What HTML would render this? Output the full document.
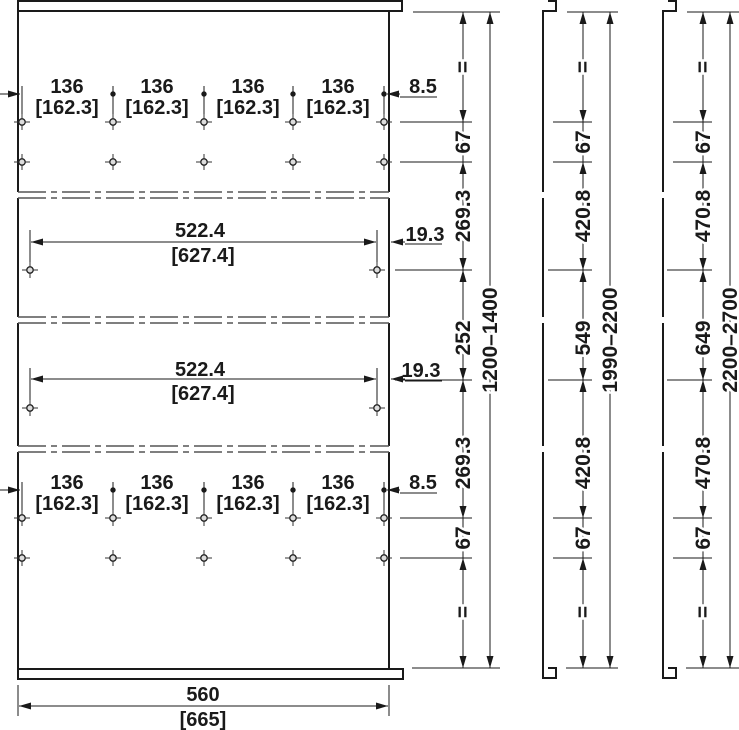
<!DOCTYPE html>
<html><head><meta charset="utf-8"><style>
html,body{margin:0;padding:0;background:#fff;}
svg{display:block;}
text{font-family:"Liberation Sans",Arial,sans-serif;font-weight:bold;fill:#1a1a1a;}
</style></head><body>
<svg width="739" height="730" viewBox="0 0 739 730" xmlns="http://www.w3.org/2000/svg">
<defs>
<marker id="a" markerWidth="13" markerHeight="8" refX="12" refY="4" orient="auto-start-reverse" markerUnits="userSpaceOnUse"><path d="M0,0.5 L12,4 L0,7.5z" fill="#1a1a1a"/></marker>
<g id="h"><line x1="-8" y1="0" x2="8" y2="0" stroke="#333" stroke-width="1"/><line x1="0" y1="-8" x2="0" y2="8" stroke="#333" stroke-width="1"/><circle r="3.2" fill="#ddd" stroke="#222" stroke-width="1.3"/></g>
</defs>
<g fill="none" stroke="#1a1a1a" stroke-width="2">
<rect x="18" y="1" width="384" height="10"/>
<rect x="18" y="669" width="385" height="10"/>
<line x1="18" y1="11" x2="18" y2="192"/><line x1="389" y1="11" x2="389" y2="192"/>
<line x1="18" y1="198" x2="18" y2="317"/><line x1="389" y1="198" x2="389" y2="317"/>
<line x1="18" y1="323" x2="18" y2="446"/><line x1="389" y1="323" x2="389" y2="446"/>
<line x1="18" y1="452" x2="18" y2="669"/><line x1="389" y1="452" x2="389" y2="669"/>
<polyline points="548,1 556,1 556,11 543,11 543,192"/>
<line x1="543" y1="198" x2="543" y2="317"/><line x1="543" y1="323" x2="543" y2="446"/>
<polyline points="543,452 543,678 556,678 556,668 548,668"/>
<polyline points="668,1 676,1 676,11 663,11 663,192"/>
<line x1="663" y1="198" x2="663" y2="317"/><line x1="663" y1="323" x2="663" y2="446"/>
<polyline points="663,452 663,678 676,678 676,668 668,668"/>
</g>
<g stroke="#555" stroke-width="1.5" stroke-dasharray="28 5 6 5">
<line x1="18" y1="192" x2="389" y2="192"/><line x1="18" y1="198" x2="389" y2="198"/>
<line x1="18" y1="317" x2="389" y2="317"/><line x1="18" y1="323" x2="389" y2="323"/>
<line x1="18" y1="446" x2="389" y2="446"/><line x1="18" y1="452" x2="389" y2="452"/>
</g>
<g>
<use href="#h" x="22" y="122"/><use href="#h" x="113" y="122"/><use href="#h" x="204" y="122"/><use href="#h" x="293" y="122"/><use href="#h" x="384" y="122"/>
<use href="#h" x="22" y="162"/><use href="#h" x="113" y="162"/><use href="#h" x="204" y="162"/><use href="#h" x="293" y="162"/><use href="#h" x="384" y="162"/>
<use href="#h" x="30" y="270"/><use href="#h" x="377" y="270"/>
<use href="#h" x="30" y="408"/><use href="#h" x="377" y="408"/>
<use href="#h" x="22" y="518"/><use href="#h" x="113" y="518"/><use href="#h" x="204" y="518"/><use href="#h" x="293" y="518"/><use href="#h" x="384" y="518"/>
<use href="#h" x="22" y="558"/><use href="#h" x="113" y="558"/><use href="#h" x="204" y="558"/><use href="#h" x="293" y="558"/><use href="#h" x="384" y="558"/>
</g>
<g stroke="#1a1a1a" stroke-width="1" fill="#1a1a1a">
<line x1="22" y1="86" x2="22" y2="114"/><line x1="113" y1="86" x2="113" y2="114"/><line x1="204" y1="86" x2="204" y2="114"/><line x1="293" y1="86" x2="293" y2="114"/><line x1="384" y1="86" x2="384" y2="114"/>
<circle cx="113" cy="94" r="2.2"/><circle cx="204" cy="94" r="2.2"/><circle cx="293" cy="94" r="2.2"/><circle cx="384" cy="94" r="2.2"/>
<line x1="22" y1="482" x2="22" y2="510"/><line x1="113" y1="482" x2="113" y2="510"/><line x1="204" y1="482" x2="204" y2="510"/><line x1="293" y1="482" x2="293" y2="510"/><line x1="384" y1="482" x2="384" y2="510"/>
<circle cx="113" cy="490" r="2.2"/><circle cx="204" cy="490" r="2.2"/><circle cx="293" cy="490" r="2.2"/><circle cx="384" cy="490" r="2.2"/>
<line x1="30" y1="230" x2="30" y2="262"/><line x1="377" y1="230" x2="377" y2="262"/>
<line x1="30" y1="368" x2="30" y2="400"/><line x1="377" y1="368" x2="377" y2="400"/>
<line x1="18" y1="685" x2="18" y2="716"/><line x1="389" y1="685" x2="389" y2="716"/>
</g>
<g stroke="#1a1a1a" stroke-width="1" fill="none">
<line x1="0" y1="94" x2="20" y2="94" marker-end="url(#a)"/>
<line x1="0" y1="490" x2="20" y2="490" marker-end="url(#a)"/>
<polyline points="437,97 400,97" /><line x1="400" y1="94" x2="387" y2="94" marker-end="url(#a)"/>
<polyline points="437,493 400,493"/><line x1="400" y1="490" x2="387" y2="490" marker-end="url(#a)"/>
<line x1="405" y1="242" x2="391" y2="242" marker-end="url(#a)"/><line x1="405" y1="244" x2="442" y2="244"/>
<line x1="405" y1="379" x2="391" y2="379" marker-end="url(#a)"/><line x1="405" y1="381" x2="442" y2="381"/>
<line x1="31" y1="242" x2="376" y2="242" marker-start="url(#a)" marker-end="url(#a)"/>
<line x1="31" y1="379" x2="376" y2="379" marker-start="url(#a)" marker-end="url(#a)"/>
<line x1="19" y1="706" x2="388" y2="706" marker-start="url(#a)" marker-end="url(#a)"/>
</g>
<g font-size="20" text-anchor="middle">
<text x="67" y="93">136</text><text x="157" y="93">136</text><text x="248" y="93">136</text><text x="338" y="93">136</text>
<text x="67" y="114">[162.3]</text><text x="157" y="114">[162.3]</text><text x="248" y="114">[162.3]</text><text x="338" y="114">[162.3]</text>
<text x="67" y="489">136</text><text x="157" y="489">136</text><text x="248" y="489">136</text><text x="338" y="489">136</text>
<text x="67" y="510">[162.3]</text><text x="157" y="510">[162.3]</text><text x="248" y="510">[162.3]</text><text x="338" y="510">[162.3]</text>
<text x="200" y="237">522.4</text><text x="203" y="262">[627.4]</text>
<text x="200" y="376">522.4</text><text x="203" y="400">[627.4]</text>
<text x="203" y="701">560</text><text x="203" y="726">[665]</text>
<text x="423" y="93">8.5</text><text x="423" y="489">8.5</text>
<text x="425" y="241">19.3</text><text x="421" y="377">19.3</text>
</g>
<g stroke="#1a1a1a" stroke-width="1">
<line x1="413" y1="12" x2="500" y2="12"/><line x1="400" y1="122" x2="472" y2="122"/><line x1="400" y1="162" x2="472" y2="162"/><line x1="395" y1="270" x2="472" y2="270"/><line x1="395" y1="380" x2="472" y2="380"/><line x1="400" y1="518" x2="472" y2="518"/><line x1="400" y1="558" x2="472" y2="558"/><line x1="412" y1="668" x2="500" y2="668"/>
<line x1="567" y1="12" x2="618" y2="12"/><line x1="553" y1="122" x2="592" y2="122"/><line x1="553" y1="162" x2="592" y2="162"/><line x1="548" y1="270" x2="592" y2="270"/><line x1="548" y1="380" x2="592" y2="380"/><line x1="553" y1="518" x2="592" y2="518"/><line x1="553" y1="558" x2="592" y2="558"/><line x1="566" y1="668" x2="618" y2="668"/>
<line x1="687" y1="12" x2="739" y2="12"/><line x1="673" y1="122" x2="712" y2="122"/><line x1="673" y1="162" x2="712" y2="162"/><line x1="667" y1="270" x2="712" y2="270"/><line x1="667" y1="380" x2="712" y2="380"/><line x1="673" y1="518" x2="712" y2="518"/><line x1="673" y1="558" x2="712" y2="558"/><line x1="686" y1="668" x2="739" y2="668"/>
</g>
<g stroke="#1a1a1a" stroke-width="1" fill="none">
<g id="c1">
<line x1="463" y1="12" x2="463" y2="122" marker-start="url(#a)" marker-end="url(#a)"/>
<line x1="463" y1="122" x2="463" y2="162"/>
<line x1="463" y1="162" x2="463" y2="270" marker-start="url(#a)" marker-end="url(#a)"/>
<line x1="463" y1="270" x2="463" y2="380" marker-start="url(#a)" marker-end="url(#a)"/>
<line x1="463" y1="380" x2="463" y2="518" marker-start="url(#a)" marker-end="url(#a)"/>
<line x1="463" y1="518" x2="463" y2="558"/>
<line x1="463" y1="558" x2="463" y2="668" marker-start="url(#a)" marker-end="url(#a)"/>
<line x1="490" y1="12" x2="490" y2="668" marker-start="url(#a)" marker-end="url(#a)"/>
</g>
<use href="#c1" x="120"/>
<use href="#c1" x="240"/>
</g>
<g font-size="21" text-anchor="middle" stroke="#fff" stroke-width="5" paint-order="stroke">
<text transform="translate(463,67) rotate(-90)" dy="7">=</text>
<text transform="translate(463,142) rotate(-90)" dy="7">67</text>
<text transform="translate(463,216) rotate(-90)" dy="7">269.3</text>
<text transform="translate(463,338) rotate(-90)" dy="7">252</text>
<text transform="translate(463,463) rotate(-90)" dy="7">269.3</text>
<text transform="translate(463,538) rotate(-90)" dy="7">67</text>
<text transform="translate(463,612) rotate(-90)" dy="7">=</text>
<text transform="translate(490,340) rotate(-90)" dy="7">1200–1400</text>
<text transform="translate(583,67) rotate(-90)" dy="7">=</text>
<text transform="translate(583,142) rotate(-90)" dy="7">67</text>
<text transform="translate(583,216) rotate(-90)" dy="7">420.8</text>
<text transform="translate(583,338) rotate(-90)" dy="7">549</text>
<text transform="translate(583,463) rotate(-90)" dy="7">420.8</text>
<text transform="translate(583,538) rotate(-90)" dy="7">67</text>
<text transform="translate(583,612) rotate(-90)" dy="7">=</text>
<text transform="translate(610,340) rotate(-90)" dy="7">1990–2200</text>
<text transform="translate(703,67) rotate(-90)" dy="7">=</text>
<text transform="translate(703,142) rotate(-90)" dy="7">67</text>
<text transform="translate(703,216) rotate(-90)" dy="7">470.8</text>
<text transform="translate(703,338) rotate(-90)" dy="7">649</text>
<text transform="translate(703,463) rotate(-90)" dy="7">470.8</text>
<text transform="translate(703,538) rotate(-90)" dy="7">67</text>
<text transform="translate(703,612) rotate(-90)" dy="7">=</text>
<text transform="translate(730,340) rotate(-90)" dy="7">2200–2700</text>
</g>
</svg>
</body></html>
